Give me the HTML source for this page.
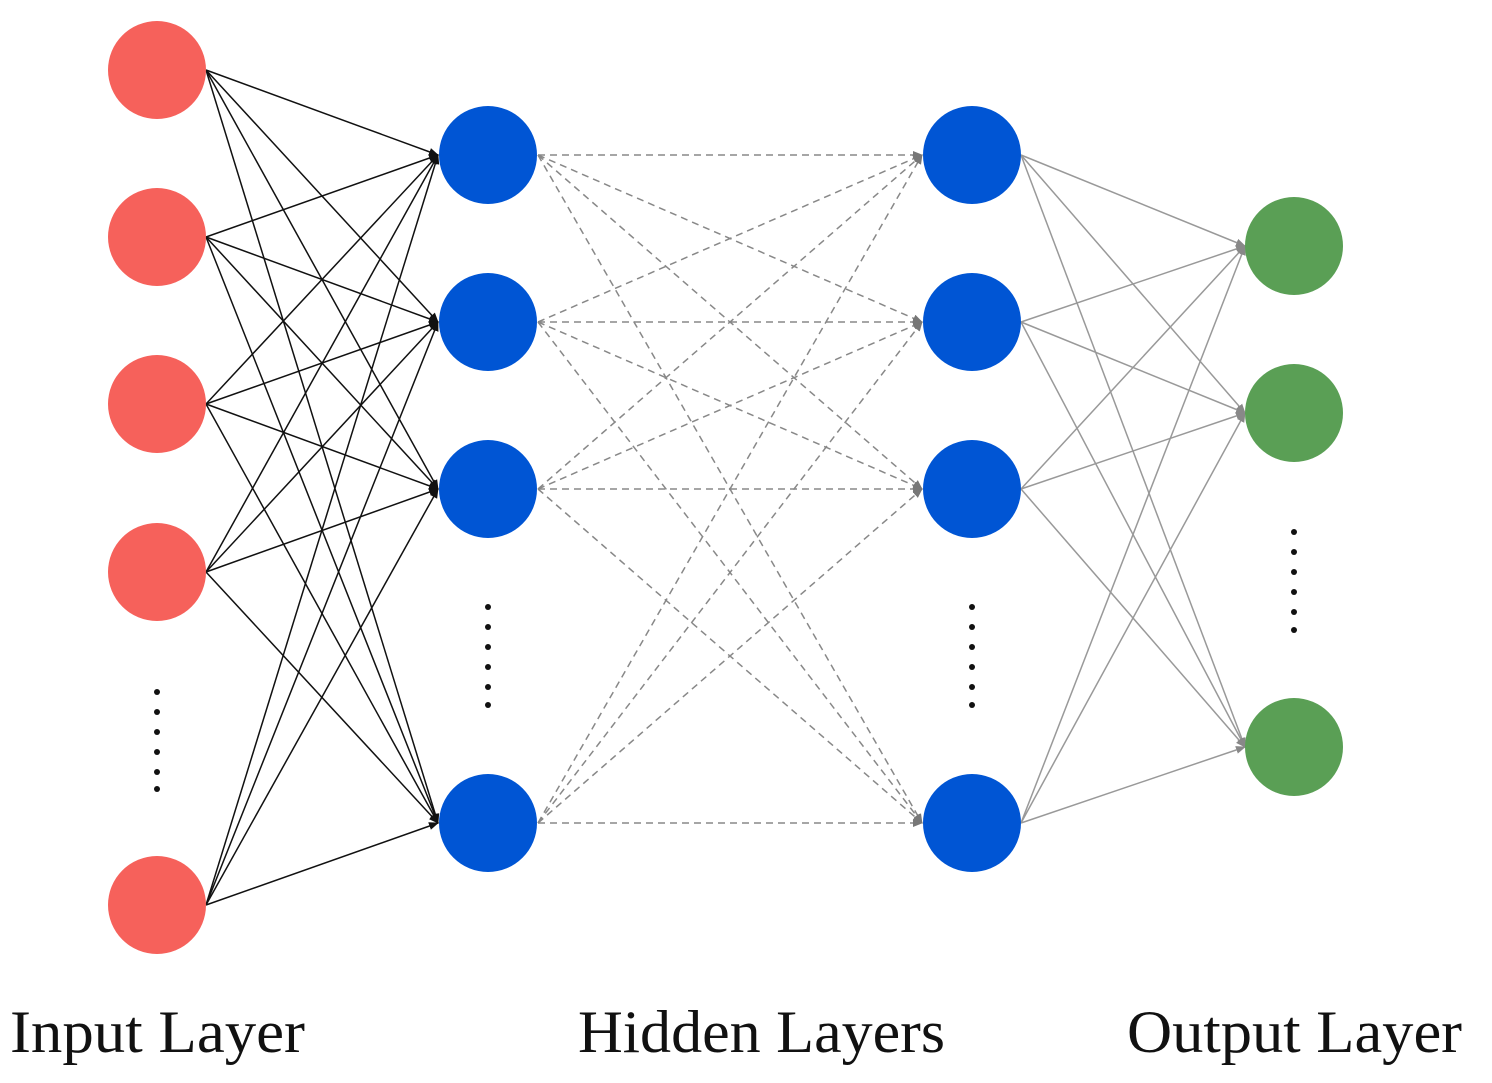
<!DOCTYPE html>
<html><head><meta charset="utf-8"><style>
html,body{margin:0;padding:0;background:#fff;}
svg{display:block}
text{font-family:"Liberation Serif",serif;font-size:60px;fill:#111}
</style></head><body>
<svg width="1492" height="1083" viewBox="0 0 1492 1083" xmlns="http://www.w3.org/2000/svg">
<defs>
<marker id="ab" markerWidth="10" markerHeight="10" refX="9" refY="5" orient="auto" markerUnits="userSpaceOnUse"><path d="M0,1 L10,5 L0,9 z" fill="#111"/></marker>
<marker id="ag" markerWidth="10" markerHeight="10" refX="9" refY="5" orient="auto" markerUnits="userSpaceOnUse"><path d="M0,1 L10,5 L0,9 z" fill="#777"/></marker>
<marker id="ag2" markerWidth="10" markerHeight="10" refX="9" refY="5" orient="auto" markerUnits="userSpaceOnUse"><path d="M0,1 L10,5 L0,9 z" fill="#888"/></marker>
</defs>
<g id="lines"></g>
<g id="nodes"></g>
<g fill="#111">
<circle cx="157" cy="692" r="3"/><circle cx="157" cy="712" r="3"/><circle cx="157" cy="732" r="3"/><circle cx="157" cy="752" r="3"/><circle cx="157" cy="772" r="3"/><circle cx="157" cy="789" r="3"/>
<circle cx="488" cy="607" r="3"/><circle cx="488" cy="627" r="3"/><circle cx="488" cy="647" r="3"/><circle cx="488" cy="667" r="3"/><circle cx="488" cy="687" r="3"/><circle cx="488" cy="705" r="3"/>
<circle cx="972" cy="607" r="3"/><circle cx="972" cy="627" r="3"/><circle cx="972" cy="647" r="3"/><circle cx="972" cy="667" r="3"/><circle cx="972" cy="687" r="3"/><circle cx="972" cy="705" r="3"/>
<circle cx="1294" cy="532" r="3"/><circle cx="1294" cy="552" r="3"/><circle cx="1294" cy="572" r="3"/><circle cx="1294" cy="592" r="3"/><circle cx="1294" cy="612" r="3"/><circle cx="1294" cy="630" r="3"/>
</g>
<text x="10" y="1052" textLength="295" lengthAdjust="spacingAndGlyphs">Input Layer</text>
<text x="578" y="1052" textLength="367" lengthAdjust="spacingAndGlyphs">Hidden Layers</text>
<text x="1127" y="1052" textLength="335" lengthAdjust="spacingAndGlyphs">Output Layer</text>
</svg>
<script>
var NS="http://www.w3.org/2000/svg";
var L=document.getElementById("lines"),N=document.getElementById("nodes");
var inp=[70,237,404,572,905],hid=[155,322,489,823],out=[246,413,747];
function line(x1,y1,x2,y2,st,w,m,d){var l=document.createElementNS(NS,"line");l.setAttribute("x1",x1);l.setAttribute("y1",y1);l.setAttribute("x2",x2);l.setAttribute("y2",y2);l.setAttribute("stroke",st);l.setAttribute("stroke-width",w);l.setAttribute("marker-end","url(#"+m+")");if(d)l.setAttribute("stroke-dasharray",d);L.appendChild(l);}
inp.forEach(function(a){hid.forEach(function(b){line(206,a,438,b,"#111",1.5,"ab");});});
hid.forEach(function(a){hid.forEach(function(b){line(538,a,922,b,"#888",1.5,"ag","7,5");});});
hid.forEach(function(a){out.forEach(function(b){line(1021,a,1245,b,"#999",1.5,"ag2");});});
function c(x,y,f){var e=document.createElementNS(NS,"circle");e.setAttribute("cx",x);e.setAttribute("cy",y);e.setAttribute("r",49);e.setAttribute("fill",f);N.appendChild(e);}
inp.forEach(function(y){c(157,y,"#f6615b");});
hid.forEach(function(y){c(488,y,"#0055d4");c(972,y,"#0055d4");});
out.forEach(function(y){c(1294,y,"#5a9f55");});
</script>
</body></html>
